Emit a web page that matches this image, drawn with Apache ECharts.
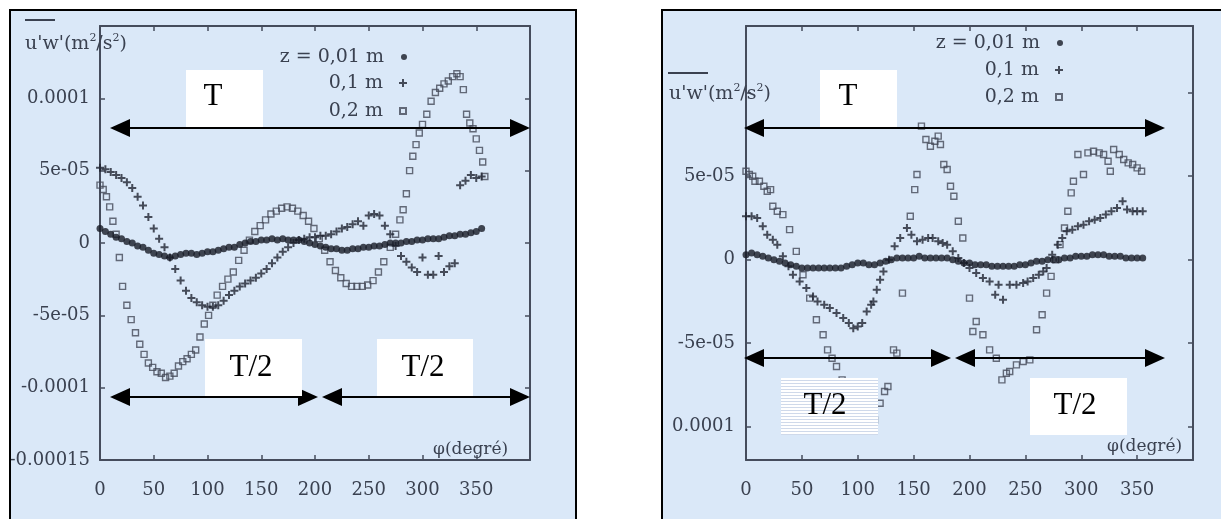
<!DOCTYPE html>
<html><head><meta charset="utf-8">
<script src="https://cdn.jsdelivr.net/npm/echarts/dist/echarts.min.js"></script>
<style>html,body{margin:0;padding:0;background:#fff}#c{width:1221px;height:519px}</style>
</head><body><div id="c"></div>
<script>
// ---------- data (values in units of 1e-5 m^2/s^2, x in degrees) ----------
const seriesNames = ['z = 0,01 m', '0,1 m', '0,2 m'];
const xTicks = [0, 50, 100, 150, 200, 250, 300, 350];
const xTickLabels = ['0', '50', '100', '150', '200', '250', '300', '350'];
const leftYTicks = [-0.00015, -0.0001, -0.00005, 0, 0.00005, 0.0001];
const leftYTickLabels = ['-0.00015', '-0.0001', '-5e-05', '0', '5e-05', '0.0001'];
const rightYTicks = [-0.0001, -0.00005, 0, 0.00005];
const rightYTickLabels = ['0.0001', '-5e-05', '0', '5e-05'];

const leftDots = [[0,1.0],[5,0.8],[10,0.6],[15,0.4],[20,0.3],[25,0.1],[30,0.0],[35,-0.2],[40,-0.3],[45,-0.5],[50,-0.7],[55,-0.8],[60,-0.9],[65,-1.0],[70,-0.9],[75,-0.8],[80,-0.7],[85,-0.7],[90,-0.8],[95,-0.7],[100,-0.6],[105,-0.6],[110,-0.5],[115,-0.4],[120,-0.3],[125,-0.3],[130,-0.1],[135,0.0],[140,0.1],[145,0.1],[150,0.2],[155,0.2],[160,0.3],[165,0.2],[170,0.3],[175,0.2],[180,0.2],[185,0.2],[190,0.1],[195,0.0],[200,-0.1],[205,-0.2],[210,-0.3],[215,-0.4],[220,-0.4],[225,-0.5],[230,-0.5],[235,-0.4],[240,-0.4],[245,-0.3],[250,-0.3],[255,-0.2],[260,-0.2],[265,-0.1],[270,0.0],[275,0.0],[280,0.0],[285,0.1],[290,0.1],[295,0.2],[300,0.2],[305,0.3],[310,0.3],[315,0.3],[320,0.4],[325,0.5],[330,0.5],[335,0.6],[340,0.6],[345,0.7],[350,0.8],[355,1.0]];
const leftCrosses = [[0,5.2],[5,5.1],[10,4.9],[15,4.7],[20,4.5],[25,4.2],[30,3.8],[35,3.2],[40,2.6],[45,1.8],[50,1.0],[55,0.3],[60,-0.3],[65,-1.0],[70,-1.8],[75,-2.6],[80,-3.3],[85,-3.8],[90,-4.1],[95,-4.3],[100,-4.4],[105,-4.4],[110,-4.3],[115,-4.0],[120,-3.6],[125,-3.3],[130,-3.0],[135,-2.8],[140,-2.6],[145,-2.4],[150,-2.1],[155,-1.8],[160,-1.4],[165,-1.0],[170,-0.6],[175,-0.3],[180,0.0],[185,0.2],[190,0.3],[195,0.4],[200,0.4],[205,0.5],[210,0.5],[215,0.6],[220,0.8],[225,1.0],[230,1.1],[235,1.3],[240,1.5],[245,1.2],[250,1.9],[255,2.0],[260,1.9],[265,1.2],[270,0.6],[275,-0.2],[280,-0.9],[285,-1.3],[290,-1.7],[295,-2.0],[300,-1.0],[305,-2.2],[310,-2.2],[315,-0.9],[320,-2.0],[325,-1.6],[330,-1.4],[335,4.0],[340,4.3],[345,4.7],[350,4.5],[355,4.6]];
const leftSquares = [[0,4.0],[3,3.7],[6,3.2],[9,2.5],[12,1.5],[15,0.6],[18,-1.0],[21,-3.0],[25,-4.3],[29,-5.3],[33,-6.2],[37,-7.0],[41,-7.7],[45,-8.3],[49,-8.6],[53,-8.9],[57,-9.0],[61,-9.3],[65,-9.2],[69,-9.0],[73,-8.5],[77,-8.2],[81,-8.0],[85,-7.7],[89,-7.4],[93,-6.5],[97,-5.6],[101,-5.0],[105,-4.3],[109,-3.6],[114,-3.0],[119,-2.5],[124,-2.0],[129,-1.2],[134,-0.5],[139,0.2],[144,0.8],[149,1.2],[154,1.6],[159,2.0],[164,2.2],[169,2.4],[174,2.5],[179,2.4],[184,2.2],[189,1.9],[194,1.5],[199,1.0],[204,0.3],[209,-0.5],[214,-1.3],[219,-1.9],[224,-2.4],[229,-2.8],[234,-3.0],[239,-3.0],[244,-3.0],[249,-2.9],[254,-2.6],[259,-2.0],[264,-1.3],[270,-0.3],[275,0.6],[279,1.6],[282,2.3],[285,3.4],[288,5.0],[291,6.0],[294,6.8],[297,7.6],[300,8.2],[304,8.9],[308,9.8],[312,10.4],[316,10.7],[320,11.0],[324,11.2],[328,11.5],[332,11.7],[335,11.5],[338,10.6],[341,8.9],[344,8.3],[347,7.9],[350,7.2],[353,6.4],[356,5.6],[358,4.6]];

const rightDots = [[0,0.3],[5,0.4],[10,0.3],[15,0.2],[20,0.1],[25,0.0],[30,-0.1],[35,-0.2],[40,-0.3],[45,-0.4],[50,-0.5],[55,-0.5],[60,-0.5],[65,-0.5],[70,-0.5],[75,-0.5],[80,-0.5],[85,-0.5],[90,-0.4],[95,-0.3],[100,-0.2],[105,-0.2],[110,-0.3],[115,-0.3],[120,-0.2],[125,-0.1],[130,0.0],[135,0.1],[140,0.1],[145,0.1],[150,0.1],[155,0.2],[160,0.1],[165,0.1],[170,0.1],[175,0.1],[180,0.1],[185,0.0],[190,-0.1],[195,-0.2],[200,-0.2],[205,-0.3],[210,-0.3],[215,-0.3],[220,-0.4],[225,-0.4],[230,-0.4],[235,-0.4],[240,-0.4],[245,-0.3],[250,-0.3],[255,-0.2],[260,-0.1],[265,-0.1],[270,0.0],[275,0.0],[280,0.0],[285,0.1],[290,0.1],[295,0.2],[300,0.2],[305,0.2],[310,0.3],[315,0.3],[320,0.3],[325,0.2],[330,0.2],[335,0.2],[340,0.1],[345,0.1],[350,0.1],[355,0.1]];
const rightCrosses = [[0,2.6],[5,2.6],[10,2.5],[15,2.0],[19,1.5],[24,1.2],[28,0.9],[33,0.2],[38,-0.4],[42,-0.9],[48,-1.3],[54,-1.7],[60,-2.2],[64,-2.5],[70,-2.7],[75,-2.9],[81,-3.2],[87,-3.5],[92,-3.8],[96,-4.1],[100,-4.0],[104,-3.8],[108,-3.1],[112,-2.7],[114,-2.5],[117,-1.8],[120,-1.2],[123,-0.7],[128,0.0],[133,0.8],[138,1.3],[144,1.9],[148,1.5],[153,1.1],[158,1.2],[163,1.3],[167,1.3],[172,1.1],[176,1.0],[180,0.9],[185,0.5],[190,0.1],[195,-0.2],[200,-0.5],[206,-0.8],[212,-1.1],[218,-1.3],[223,-2.1],[226,-1.5],[230,-2.4],[236,-1.5],[242,-1.5],[248,-1.4],[252,-1.3],[257,-1.1],[262,-0.9],[266,-0.7],[269,-0.5],[274,0.3],[279,0.9],[283,1.3],[287,1.7],[292,1.8],[297,2.0],[302,2.1],[307,2.3],[312,2.4],[317,2.5],[322,2.7],[327,2.9],[332,3.1],[337,3.5],[341,3.0],[346,2.9],[350,2.9],[355,2.9]];
const rightSquares = [[0,5.3],[3,5.1],[6,5.0],[8,4.7],[12,4.7],[16,4.4],[19,4.1],[22,4.2],[24,3.2],[28,2.9],[33,2.7],[39,1.8],[45,0.5],[51,-0.9],[57,-2.3],[63,-3.6],[69,-4.5],[73,-5.4],[77,-5.9],[81,-6.4],[86,-7.2],[90,-7.9],[95,-8.7],[100,-9.4],[105,-9.9],[110,-10.2],[115,-9.6],[120,-8.6],[124,-7.9],[127,-7.6],[132,-5.4],[135,-5.6],[140,-2.0],[147,2.6],[151,4.2],[153,5.1],[157,8.0],[161,7.2],[165,6.8],[169,7.1],[172,7.4],[174,6.9],[177,5.7],[180,5.4],[183,4.4],[186,3.8],[190,2.3],[194,1.3],[200,-2.3],[203,-4.3],[206,-3.7],[212,-4.5],[218,-5.4],[224,-5.9],[229,-7.2],[233,-6.8],[236,-6.7],[242,-6.3],[248,-6.1],[254,-6.0],[260,-4.2],[265,-3.3],[269,-2.0],[273,-1.0],[277,0.0],[281,0.9],[285,1.9],[288,2.9],[291,4.0],[293,4.7],[297,6.3],[302,5.1],[306,6.4],[311,6.5],[316,6.4],[320,6.3],[324,5.9],[326,5.3],[329,6.6],[334,6.3],[338,6.0],[342,5.8],[346,5.7],[350,5.5],[354,5.3]];

// ---------- chart ----------
const UNIT = 1e-5;
const toPts = arr => arr.map(p => [p[0], p[1] * UNIT]);
const SERIF = 'DejaVu Serif';
const TXT = '#3a4150';
const AX = '#454c5c';
const PLUS = 'path://M3,0H5V3H8V5H5V8H3V5H0V3H3Z';
const SQUARE = 'path://M0,0H10V10H0Z';

function labelFrom(ticks, labels) {
  return v => { const i = ticks.findIndex(t => Math.abs(t - v) < 1e-10); return i < 0 ? '' : labels[i]; };
}
function xAxisDef(grid, pos, show) {
  return {
    type: 'value', gridIndex: grid, position: pos, min: 0, max: 400, interval: 50,
    axisLine: { show: true, onZero: false, lineStyle: { color: AX, width: 2 } },
    axisTick: { show: true, inside: true, length: 5, lineStyle: { color: AX, width: 1.5 } },
    splitLine: { show: false },
    axisLabel: { show: show, margin: 21, fontFamily: SERIF, fontSize: 18, color: TXT,
      formatter: labelFrom(xTicks, xTickLabels) }
  };
}
function yAxisDef(grid, pos, show, range, ticks, labels, margin) {
  const a = {
    type: 'value', gridIndex: grid, position: pos, min: range[0], max: range[1],
    axisLine: { show: true, onZero: false, lineStyle: { color: AX, width: 2 } },
    axisTick: { show: true, inside: true, length: 5, lineStyle: { color: AX, width: 1.5 } },
    splitLine: { show: false },
    axisLabel: { show: show, margin: margin, fontFamily: SERIF, fontSize: 18, color: TXT,
      formatter: labelFrom(ticks, labels) }
  };
  if (range[2]) a.interval = range[2]; else a.splitNumber = 5;
  return a;
}

const symbolStyles = [
  { symbol: 'circle', symbolSize: 7, itemStyle: { color: '#161a25' } },
  { symbol: PLUS, symbolSize: 8, itemStyle: { color: '#1f2331' } },
  { symbol: SQUARE, symbolSize: 6, itemStyle: { color: 'rgba(0,0,0,0)', borderColor: '#444957', borderWidth: 1.4 } }
];
function mk(name, data, xi, yi, k) {
  return Object.assign({ type: 'scatter', name: name, xAxisIndex: xi, yAxisIndex: yi,
    symbolKeepAspect: true, data: toPts(data), z: k === 0 ? 4 : 3 }, symbolStyles[k]);
}

function legendDef(name, k, right, centerY) {
  const s = [6, 8, 6][k];
  return { data: [name], orient: 'vertical', align: 'right', right: right, top: centerY - 10,
    itemWidth: 30, itemHeight: s, padding: 0, selectedMode: false, symbolKeepAspect: true,
    textStyle: { fontFamily: SERIF, fontSize: 19, color: TXT, lineHeight: 20 } };
}

// annotation helpers
function arrow(x1, x2, y) {
  return [
    { type: 'line', shape: { x1: x1 + 18, y1: y, x2: x2 - 18, y2: y }, style: { stroke: '#000', lineWidth: 2 }, z: 100 },
    { type: 'polygon', shape: { points: [[x1, y], [x1 + 20, y - 9], [x1 + 20, y + 9]] }, style: { fill: '#000' }, z: 100 },
    { type: 'polygon', shape: { points: [[x2, y], [x2 - 20, y - 9], [x2 - 20, y + 9]] }, style: { fill: '#000' }, z: 100 }
  ];
}
function box(x, y, w, h, text, tx, ty, striped) {
  const els = [{ type: 'rect', shape: { x: x, y: y, width: w, height: h }, style: { fill: '#fff' }, z: 101 }];
  if (striped) {
    for (let yy = y + 2; yy < y + h; yy += 3) {
      els.push({ type: 'line', shape: { x1: x, y1: yy + 0.5, x2: x + w, y2: yy + 0.5 }, style: { stroke: '#cfd9ea', lineWidth: 1 }, z: 102 });
    }
  }
  els.push({ type: 'text', x: tx, y: ty, z: 103,
    style: { text: text, fontFamily: 'Liberation Serif', fontSize: 31, fill: '#000', align: 'center', verticalAlign: 'middle' } });
  return els;
}
function yName(x, y, barX1, barX2, barY) {
  return [
    { type: 'text', x: x, y: y, z: 50, style: {
      text: "{a|u'w'(m}{s|2}{a|/s}{s|2}{a|)}", align: 'left', verticalAlign: 'middle',
      rich: { a: { fontFamily: SERIF, fontSize: 19, fill: TXT, lineHeight: 22 },
              s: { fontFamily: SERIF, fontSize: 11, fill: TXT, verticalAlign: 'top', lineHeight: 22 } } } },
    { type: 'line', z: 50, shape: { x1: barX1, y1: barY, x2: barX2, y2: barY }, style: { stroke: TXT, lineWidth: 2 } }
  ];
}
function xName(x, y) {
  return { type: 'text', x: x, y: y, z: 50, style: { text: 'φ(degré)', fontFamily: SERIF, fontSize: 17, fill: TXT, align: 'left', verticalAlign: 'middle' } };
}

const graphics = [
  { type: 'rect', shape: { x: 11, y: 11, width: 564, height: 520 }, style: { fill: '#dae8f8' }, z: -10 },
  { type: 'rect', shape: { x: 663, y: 11, width: 570, height: 520 }, style: { fill: '#dae8f8' }, z: -10 },
  { type: 'rect', shape: { x: 10, y: 10, width: 566, height: 530 }, style: { fill: 'none', stroke: '#000', lineWidth: 2 }, z: 200 },
  { type: 'rect', shape: { x: 662, y: 10, width: 580, height: 530 }, style: { fill: 'none', stroke: '#000', lineWidth: 2 }, z: 200 },
  ...yName(25, 44, 25, 55, 20),
  ...yName(669, 94, 668, 708, 73),
  xName(433, 450),
  xName(1107, 447),
  ...arrow(110, 530, 128),
  ...arrow(110, 318, 397),
  ...arrow(322, 530, 397),
  ...box(186, 70, 77, 57, 'T', 213, 97),
  ...box(205, 339, 97, 57, 'T/2', 251, 368),
  ...box(377, 339, 96, 57, 'T/2', 423, 368),
  ...arrow(744, 1165, 128),
  ...arrow(744, 951, 358),
  ...arrow(955, 1165, 358),
  ...box(820, 70, 77, 57, 'T', 848, 97),
  ...box(781, 378, 97, 57, 'T/2', 825, 406, true),
  ...box(1030, 378, 97, 57, 'T/2', 1075, 406)
];

const option = {
  animation: false,
  backgroundColor: '#ffffff',
  grid: [
    { left: 100, top: 26, width: 430, height: 434 },
    { left: 746, top: 26, width: 447, height: 434 }
  ],
  xAxis: [xAxisDef(0, 'bottom', true), xAxisDef(0, 'top', false), xAxisDef(1, 'bottom', true), xAxisDef(1, 'top', false)],
  yAxis: [
    yAxisDef(0, 'left', true, [-0.00015, 0.00015, 0.00005], leftYTicks, leftYTickLabels, 10),
    yAxisDef(0, 'right', false, [-0.00015, 0.00015, 0.00005], leftYTicks, leftYTickLabels, 10),
    yAxisDef(1, 'left', true, [-0.00012, 0.00014], rightYTicks, rightYTickLabels, 11),
    yAxisDef(1, 'right', false, [-0.00012, 0.00014], rightYTicks, rightYTickLabels, 11)
  ],
  legend: [
    legendDef(seriesNames[0], 0, 814, 57), legendDef(seriesNames[1], 1, 814, 83), legendDef(seriesNames[2], 2, 814, 111),
    legendDef(seriesNames[0], 0, 158, 43), legendDef(seriesNames[1], 1, 158, 70), legendDef(seriesNames[2], 2, 158, 97)
  ],
  series: [
    mk(seriesNames[2], leftSquares, 0, 0, 2),
    mk(seriesNames[1], leftCrosses, 0, 0, 1),
    mk(seriesNames[0], leftDots, 0, 0, 0),
    mk(seriesNames[2], rightSquares, 2, 2, 2),
    mk(seriesNames[1], rightCrosses, 2, 2, 1),
    mk(seriesNames[0], rightDots, 2, 2, 0)
  ],
  graphic: { elements: graphics }
};
const chart = echarts.init(document.getElementById('c'));
chart.setOption(option);
</script>
</body></html>
